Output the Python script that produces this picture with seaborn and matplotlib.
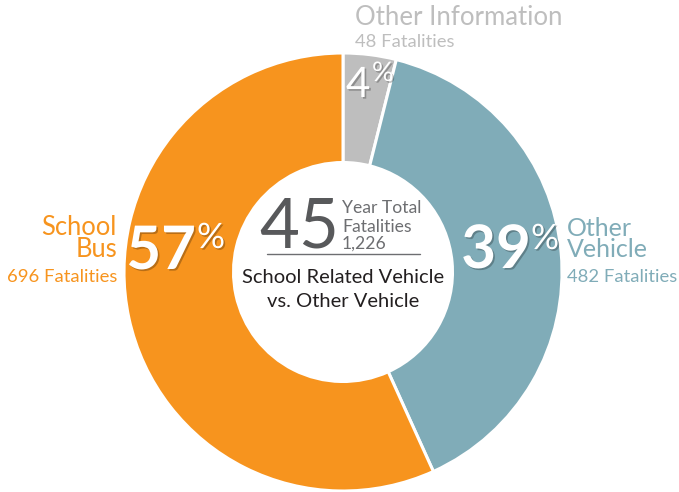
import matplotlib
matplotlib.use("Agg")
import matplotlib.pyplot as plt
import matplotlib.patheffects as pe
import seaborn as sns

# ---- data ----
categories = ["Other Information", "Other Vehicle", "School Bus"]
fatalities = [48, 482, 696]
label_lines = [["Other Information"], ["Other", "Vehicle"], ["School", "Bus"]]
colors = ["#BEBEBE", "#80ACB8", "#F7941E"]
text_colors = ["#BEBEBE", "#80ACB8", "#F7941E"]
years = 45
total = sum(fatalities)

sns.set_theme(style="white")
FONT = "Lato"
plt.rcParams["font.family"] = [FONT, "DejaVu Sans"]

W, H = 679, 492
fig = plt.figure(figsize=(W / 100, H / 100), dpi=100)
ax = fig.add_axes([0, 0, 1, 1])

cx, cy, R = 343, 272, 219

def Y(y):
    return H - y

ax.pie(fatalities, colors=colors, startangle=90, counterclock=False,
       center=(cx, Y(cy)), radius=R,
       wedgeprops=dict(width=R * 0.5, edgecolor="white", linewidth=2.2))
ax.set_xlim(0, W)
ax.set_ylim(0, H)
ax.set_aspect("equal")
ax.axis("off")

def pt(px):
    return px * 0.72

shadow = [pe.withSimplePatchShadow(offset=(1.2, -1.2), shadow_rgbFace="#000000", alpha=0.25)]
pcts = [round(v / total * 100) for v in fatalities]

# Other Information (top)
ax.text(355, Y(25), label_lines[0][0], color=text_colors[0], fontsize=pt(25.8),
        ha="left", va="baseline")
ax.text(355, Y(47), f"{fatalities[0]} Fatalities", color=text_colors[0], fontsize=pt(18.5),
        ha="left", va="baseline")
ax.text(346, Y(97), f"{pcts[0]}", color="white", fontsize=pt(42), ha="left",
        va="baseline", path_effects=shadow)
ax.text(372, Y(81), "%", color="white", fontsize=pt(27), ha="left",
        va="baseline", path_effects=shadow)

# School Bus (left)
ax.text(117, Y(257), "\n".join(label_lines[2]), color=text_colors[2], fontsize=pt(25.5),
        ha="right", va="baseline", multialignment="right", linespacing=0.87)
ax.text(117, Y(282), f"{fatalities[2]} Fatalities", color=text_colors[2], fontsize=pt(18.5),
        ha="right", va="baseline")
ax.text(196, Y(269), f"{pcts[2]}", color="white", fontsize=pt(60), fontweight="bold",
        ha="right", va="baseline", path_effects=shadow)
ax.text(197, Y(248), "%", color="white", fontsize=pt(35), ha="left",
        va="baseline", path_effects=shadow)

# Other Vehicle (right)
ax.text(567, Y(257), "\n".join(label_lines[1]), color=text_colors[1], fontsize=pt(25),
        ha="left", va="baseline", multialignment="left", linespacing=0.87)
ax.text(567, Y(282), f"{fatalities[1]} Fatalities", color=text_colors[1], fontsize=pt(18.5),
        ha="left", va="baseline")
ax.text(531, Y(268), f"{pcts[1]}", color="white", fontsize=pt(60), fontweight="bold",
        ha="right", va="baseline", path_effects=shadow)
ax.text(531, Y(249), "%", color="white", fontsize=pt(35), ha="left",
        va="baseline", path_effects=shadow)

# Center
ax.text(339, Y(248), f"{years}", color="#58595B", fontsize=pt(69),
        ha="right", va="baseline")
ax.text(342, Y(213), "Year Total", color="#6D6E71", fontsize=pt(17.5),
        ha="left", va="baseline")
ax.text(342, Y(232), "Fatalities", color="#6D6E71", fontsize=pt(17.5),
        ha="left", va="baseline")
ax.text(342, Y(249), f"{total:,}", color="#6D6E71", fontsize=pt(17.5),
        ha="left", va="baseline")
ax.plot([267, 420], [Y(254), Y(254)], color="#6D6E71", lw=1)
ax.text(343, Y(283), "School Related Vehicle", color="#231F20", fontsize=pt(20.2),
        ha="center", va="baseline")
ax.text(343, Y(307), "vs. Other Vehicle", color="#231F20", fontsize=pt(20.2),
        ha="center", va="baseline")

fig.savefig("out.png", dpi=100, facecolor="white")
